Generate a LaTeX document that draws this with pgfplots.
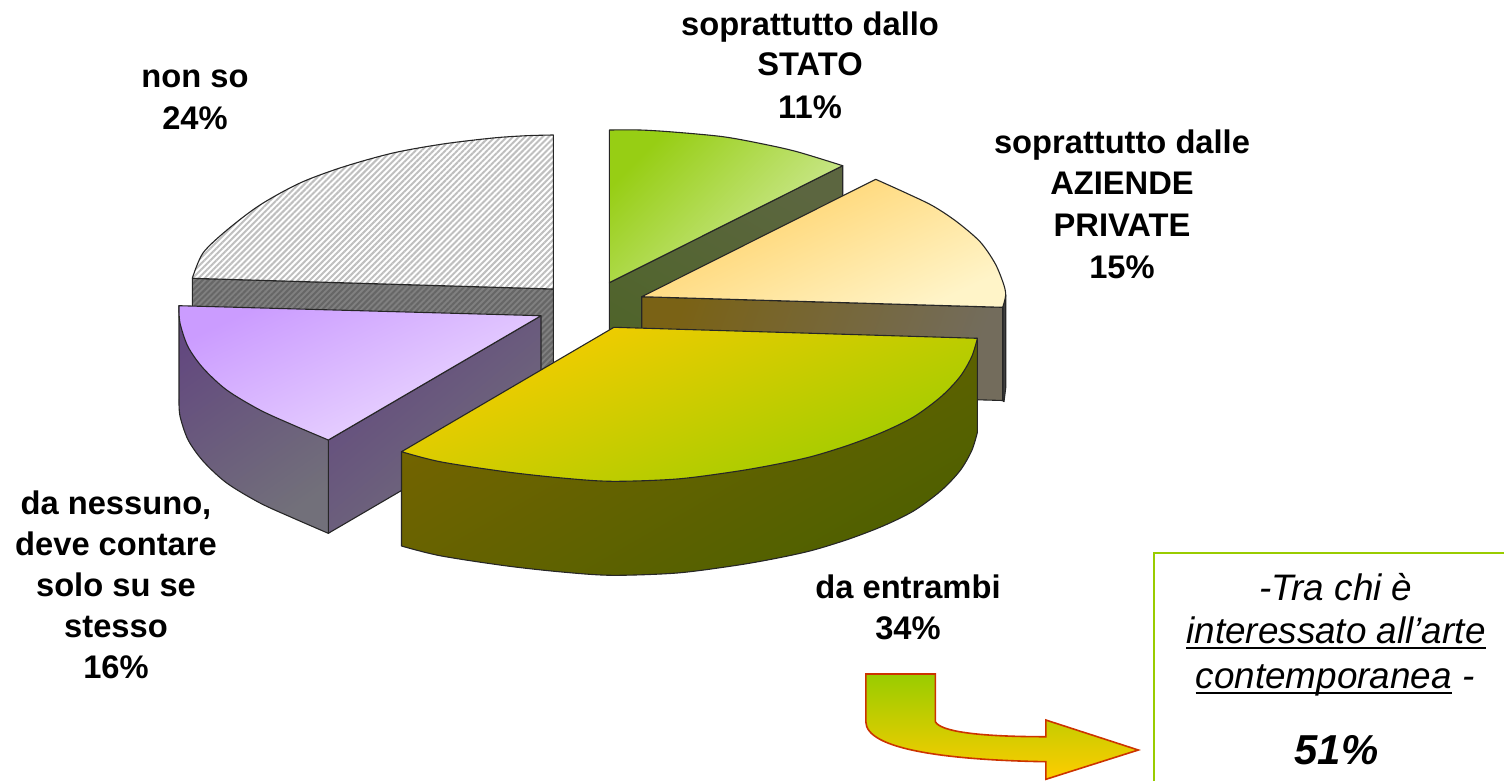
\documentclass[border=0pt]{standalone}
\usepackage{pgfplots}
\pgfplotsset{compat=1.18}
\usetikzlibrary{patterns.meta}
\usepackage{fontspec}
\setmainfont{Liberation Sans}
\definecolor{ygreen}{HTML}{99CC00}
\definecolor{yyel}{HTML}{FFCC00}
\definecolor{a1}{HTML}{5C6640}\definecolor{a2}{HTML}{4F642A}
\definecolor{b1}{HTML}{97CE14}\definecolor{b2}{HTML}{D4ECA4}
\definecolor{c1}{HTML}{7A6215}\definecolor{c2}{HTML}{736C5C}
\definecolor{d1}{HTML}{FFCF60}\definecolor{d2}{HTML}{FFF4C8}
\definecolor{e1}{HTML}{63497F}\definecolor{e2}{HTML}{72707A}
\definecolor{f1}{HTML}{CB9CFF}\definecolor{f2}{HTML}{EEDEFF}
\definecolor{g1}{HTML}{766400}\definecolor{g2}{HTML}{4E6000}
\definecolor{h1}{HTML}{FACC00}\definecolor{h2}{HTML}{9CCC00}
\newsavebox\ulbox
\newcommand{\ul}[1]{\sbox\ulbox{#1}\rlap{\raisebox{-6bp}{\rule{\wd\ulbox}{2.4bp}}}\usebox\ulbox}
\tikzset{
 edge/.style={draw=black!85,line width=1.1bp,line join=round},
 lab/.style={anchor=base,font=\fontsize{32.8}{38}\selectfont\bfseries,inner sep=0pt,text=black},
 itl/.style={anchor=base,font=\fontsize{37}{42}\selectfont\itshape,inner sep=0pt,text=black},
}
\begin{document}
\begin{tikzpicture}
\begin{axis}[scale only axis,width=1504bp,height=781bp,xmin=0,xmax=1504,ymin=0,ymax=781,y dir=reverse,hide axis]
\path (axis cs:0,0) rectangle (axis cs:1504,781);
% non so: back wall
\addplot[fill=black!50,draw=none] coordinates {(192.3,278.3)(553.3,289)(553.3,382)(192.3,371)(192.3,278.3)};
\addplot[pattern={Lines[angle=45,distance=4.235pt,line width=2pt]},pattern color=black!60,edge] coordinates {(192.3,278.3)(553.3,289)(553.3,382)(192.3,371)(192.3,278.3)};
% non so: top
\addplot[fill=white,draw=none,smooth] coordinates {(553.3,135)(526.7,135.7)(493,138)(443,144)(393,153)(343,167)(300,183)(260,205)(227,230)(203,253)(192.3,278.3)} -- (axis cs:553.3,289) -- cycle;
\addplot[pattern={Lines[angle=45,distance=4.235pt,line width=2pt]},pattern color=black!25,edge,smooth] coordinates {(553.3,135)(526.7,135.7)(493,138)(443,144)(393,153)(343,167)(300,183)(260,205)(227,230)(203,253)(192.3,278.3)} -- (axis cs:553.3,289) -- cycle;
% stato: side and top
\addplot[edge,top color=a1,bottom color=a2,shading angle=-30] coordinates {(609.3,282.7)(842.7,165.7)(842.7,259)(609.3,376)(609.3,282.7)};
\addplot[edge,top color=b1,bottom color=b2,shading angle=45,smooth] coordinates {(609.3,130)(640,130)(673,132)(723,136.7)(763,144)(797,151.7)(842.7,165.7)} -- (axis cs:609.3,282.7) -- cycle;
% aziende: sides and top
\addplot[edge,fill=black!75] coordinates {(1002.7,307.3)(1005.7,295)(1005.7,388)(1004,401.7)(1002.7,400.5)(1002.7,307.3)};
\addplot[edge,left color=c1,right color=c2,shading angle=70] coordinates {(641.7,296.7)(1002.7,307.3)(1002.7,400.5)(641.7,390)(641.7,296.7)};
\addplot[edge,top color=d1,bottom color=d2,shading angle=25,smooth] coordinates {(875.7,179.3)(906.7,193.3)(933,206)(956.7,221.7)(980,241.7)(995,263.3)(1003.3,283.3)(1005.7,295)(1002.7,307.3)} -- (axis cs:641.7,296.7) -- cycle;
% nessuno: sides and top
\addplot[edge,top color=e1,bottom color=e2,shading angle=40] coordinates {(541,315.7)(328.3,440)(328.3,533.3)(541,409)(541,315.7)};
\addplot[edge,top color=e1,bottom color=e2,shading angle=35,smooth] coordinates {(179,398.7)(180,416)(188,439.7)(203,461)(226.7,483)(260,503)(293,518)(328.3,533.3)} -- (axis cs:328.3,440) -- (axis cs:179,305.7) -- cycle;
\addplot[edge,top color=f1,bottom color=f2,shading angle=25,smooth] coordinates {(328.3,440)(293,425)(260,410)(226.7,390)(203,368)(188,346.7)(180,323)(179,305.7)} -- (axis cs:541,315.7) -- cycle;
% entrambi: side and top
\addplot[edge,top color=g1,bottom color=g2,shading angle=30,smooth] coordinates {(401.5,546)(440,555.7)(505,565.7)(562,572)(612,575.3)(677,573)(734,565.7)(772.7,559)(811,550.7)(849,539)(883.7,525.7)(914,510.7)(941,490.7)(960,470.7)(971.7,450.7)(977.4,432.3)} -- (axis cs:977.4,338.3) -- (axis cs:401.5,451.7) -- cycle;
\addplot[edge,top color=h1,bottom color=h2,shading angle=22,smooth] coordinates {(977.4,338.3)(971.7,356.7)(960,376.7)(941,396.7)(914,416.7)(883.7,431.7)(849,445)(811,456.7)(772.7,465)(734,471.7)(677,479)(612,481.3)(562,478)(505,471.7)(440,461.7)(401.5,451.7)} -- (axis cs:613.9,327.3) -- cycle;
% arrow
\addplot[draw={rgb,255:red,204;green,51;blue,0},line width=1.6bp,line join=miter,top color=ygreen,bottom color=yyel] coordinates {(865.8,674)(935.4,674)(935.4,721.7)} .. controls (axis cs:940,731) and (axis cs:975,736.7) .. (axis cs:1045.8,736.7) -- (axis cs:1045.8,720) -- (axis cs:1138.3,750) -- (axis cs:1045.8,779.3) -- (axis cs:1045.8,761.7) .. controls (axis cs:950,760) and (axis cs:866,750) .. (axis cs:865.8,721.7) -- cycle;
% box
\addplot[ygreen,line width=2.4bp] coordinates {(1154,781)(1154,553)(1504,553)};
% labels
\node[lab] at (axis cs:810,36) {soprattutto dallo};
\node[lab] at (axis cs:810,76) {STATO};
\node[lab] at (axis cs:810,118) {11\%};
\node[lab] at (axis cs:1122,153) {soprattutto dalle};
\node[lab] at (axis cs:1122,194) {AZIENDE};
\node[lab] at (axis cs:1122,236) {PRIVATE};
\node[lab] at (axis cs:1122,278) {15\%};
\node[lab] at (axis cs:195,88) {non so};
\node[lab] at (axis cs:195,129) {24\%};
\node[lab] at (axis cs:116,514) {da nessuno,};
\node[lab] at (axis cs:116,555) {deve contare};
\node[lab] at (axis cs:116,596) {solo su se};
\node[lab] at (axis cs:116,637) {stesso};
\node[lab] at (axis cs:116,678) {16\%};
\node[lab] at (axis cs:908,598) {da entrambi};
\node[lab] at (axis cs:908,639) {34\%};
\node[itl] at (axis cs:1336,600) {-Tra chi è};
\node[itl] at (axis cs:1336,643) {\ul{interessato all’arte}};
\node[itl] at (axis cs:1335,688) {\ul{contemporanea} -};
\node[anchor=base,inner sep=0pt,font=\fontsize{42}{48}\selectfont\bfseries\itshape] at (axis cs:1336.5,764) {51\%};
\end{axis}
\end{tikzpicture}
\end{document}
